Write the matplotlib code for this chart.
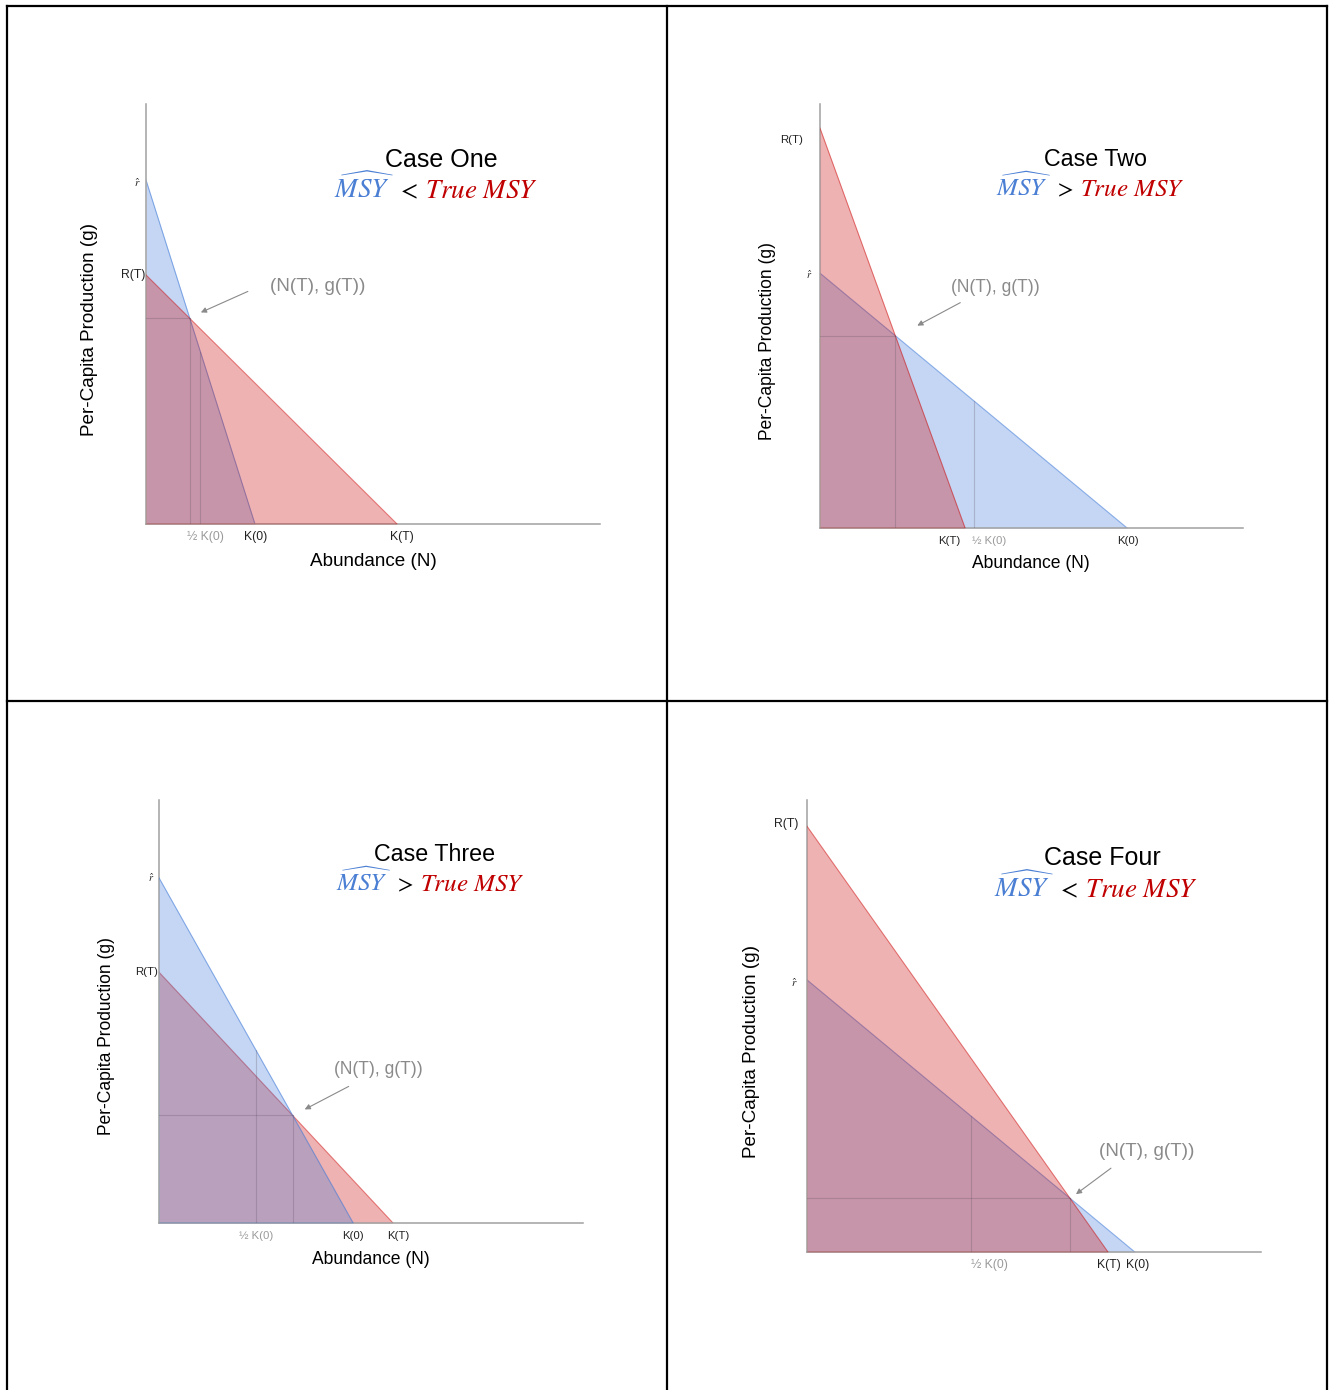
import numpy as np
import matplotlib
matplotlib.use('Agg')
import matplotlib.pyplot as plt
from matplotlib.lines import Line2D
from matplotlib.transforms import offset_copy

plt.rcParams['font.family'] = ['Liberation Sans', 'DejaVu Sans']
plt.rcParams['mathtext.fontset'] = 'stix'

W, H = 1332, 1390

# data for the four cases (axis units 0..10)
cases = ['Case One', 'Case Two', 'Case Three', 'Case Four']
relations = ['<', '>', '>', '<']
r_hat = [8.19, 6.01, 8.16, 6.02]
R_T = [5.93, 9.43, 5.93, 9.42]
K_0 = [2.40, 7.26, 4.58, 7.22]
K_T = [5.53, 3.43, 5.52, 6.63]
blue_on_top = [False, False, True, False]
x_labels = ['½ K(0)', 'K(0)', 'K(T)']

BLUE = '#3c78d8'
RED = '#cc0000'

# layout in pixels (left, bottom from top, width, height)
boxes = [(146, 524, 454, 420), (820, 528, 423, 424), (159, 1223, 424, 423), (807, 1252, 454, 452)]
scale = [1.0, 0.93, 0.93, 1.0]
title_xy = [(441, 167), (1095, 166), (435, 861), (1102, 865)]
rel_xy = [(408, 198), (1064, 196), (404, 891), (1068, 897)]
ylab_xy = [(90, 330), (768, 341), (107, 1036), (751, 1052)]
xlab_xy = [(373, 561), (1031, 564), (371, 1259), None]
arrow_tail = [(58, 27), (65, 33), (56, 29), (41, 30)]
arrow_head = [(11, 6), (22, 10), (12, 6), (6, 4)]
note_off = [(128, 32), (100, 48), (86, 46), (77, 47)]
rt_pad = [(1, 0), (17, -12), (1, 0), (9, 2)]
rhat_pad = [(5, -3), (8, -2), (5, 0), (9, -3)]
xlab_dx = [(5, 1, 5), (16, 1, -16), (0, 0, 5), (19, 3, 1)]


def fx(x):
    return x / W


def fy(y):
    return 1 - y / H


fig = plt.figure(figsize=(W / 100, H / 100), dpi=100)

# table grid
for x0, y0, x1, y1 in [(7, 6, 1327, 6), (7, 6, 7, 1390), (667, 6, 667, 1390),
                       (1327, 6, 1327, 1390), (7, 701, 1327, 701)]:
    fig.add_artist(Line2D([fx(x0), fx(x1)], [fy(y0), fy(y1)], color='black', lw=1.6))

for i in range(4):
    l, b, w, h = boxes[i]
    k = scale[i]
    ax = fig.add_axes([fx(l), fy(b), w / W, h / H])
    ax.set_xlim(0, 10)
    ax.set_ylim(0, 10)
    ax.patch.set_alpha(0)
    ax.set_xticks([])
    ax.set_yticks([])
    for s in ['top', 'right']:
        ax.spines[s].set_visible(False)
    for s in ['left', 'bottom']:
        ax.spines[s].set_color('#a0a0a0')
        ax.spines[s].set_linewidth(1.1)

    zb, zr = (3, 2) if blue_on_top[i] else (2, 3)
    bx, by = [0, K_0[i]], [r_hat[i], 0]
    rx, ry = [0, K_T[i]], [R_T[i], 0]
    ax.fill_between(bx, by, 0, color=BLUE, alpha=0.3, lw=0, zorder=zb)
    ax.plot(bx, by, color=BLUE, lw=0.8, alpha=0.55, zorder=zb)
    ax.fill_between(rx, ry, 0, color=RED, alpha=0.3, lw=0, zorder=zr)
    ax.plot(rx, ry, color=RED, lw=0.8, alpha=0.45, zorder=zr)

    # where the two lines cross
    nt = (R_T[i] - r_hat[i]) / (R_T[i] / K_T[i] - r_hat[i] / K_0[i])
    gt = r_hat[i] * (1 - nt / K_0[i])

    gl = dict(color='#5a4a5e', alpha=0.25, lw=0.8, zorder=4)
    ax.plot([nt, nt], [0, gt], **gl)
    ax.plot([0, nt], [gt, gt], **gl)
    ax.plot([K_0[i] / 2, K_0[i] / 2], [0, r_hat[i] / 2], **gl)

    # x labels
    xs = [K_0[i] / 2, K_0[i], K_T[i]]
    cols = ['#9a9a9a', '#222222', '#222222']
    for j in range(3):
        ax.annotate(x_labels[j], (xs[j], 0), xytext=(xlab_dx[i][j], -13),
                    textcoords='offset pixels', ha='center', va='center',
                    fontsize=8.8 * k, color=cols[j], annotation_clip=False)

    # y labels
    ax.annotate('R(T)', (0, R_T[i]), xytext=(-rt_pad[i][0], rt_pad[i][1]),
                textcoords='offset pixels', ha='right', va='center',
                fontsize=8.8 * k, color='#222222', annotation_clip=False)
    ax.annotate(r'$\hat{r}$', (0, r_hat[i]), xytext=(-rhat_pad[i][0], rhat_pad[i][1]),
                textcoords='offset pixels', ha='right', va='center',
                fontsize=8 * k, color='#222222', annotation_clip=False)

    # point annotation
    ax.annotate('(N(T), g(T))', (nt, gt), xytext=note_off[i], textcoords='offset pixels',
                ha='center', va='center', color='#8a8a8a', fontsize=13.6 * k,
                annotation_clip=False)
    hx, hy = arrow_head[i]
    tx, ty = arrow_tail[i]
    head_tr = offset_copy(ax.transData, fig=fig, x=hx, y=hy, units='dots')
    ax.annotate('', xy=(nt, gt), xycoords=head_tr, xytext=(tx - hx, ty - hy),
                textcoords='offset pixels',
                arrowprops=dict(arrowstyle='-|>', color='#8a8a8a', lw=0.8,
                                mutation_scale=8, shrinkA=0, shrinkB=0),
                annotation_clip=False)

    # titles
    fig.text(fx(title_xy[i][0]), fy(title_xy[i][1]), cases[i], ha='center',
             va='baseline', fontsize=18 * k)
    cx, cy = rel_xy[i]
    fig.text(fx(cx), fy(cy), '$' + relations[i] + '$', ha='center', va='baseline',
             fontsize=18 * k, color='black')
    fig.text(fx(cx - 13 * k), fy(cy), r'$\widehat{MSY}$', ha='right', va='baseline',
             fontsize=19.5 * k, color='#4a7fd4')
    fig.text(fx(cx + 17 * k), fy(cy), r'$\mathit{True\ MSY}$', ha='left', va='baseline',
             fontsize=19.5 * k, color='#c00000')

    fig.text(fx(ylab_xy[i][0]), fy(ylab_xy[i][1]), 'Per-Capita Production (g)',
             rotation=90, ha='center', va='center', fontsize=13.6 * k)
    if xlab_xy[i] is not None:
        fig.text(fx(xlab_xy[i][0]), fy(xlab_xy[i][1]), 'Abundance (N)',
                 ha='center', va='center', fontsize=13.6 * k)

fig.savefig('out.png', dpi=100)
